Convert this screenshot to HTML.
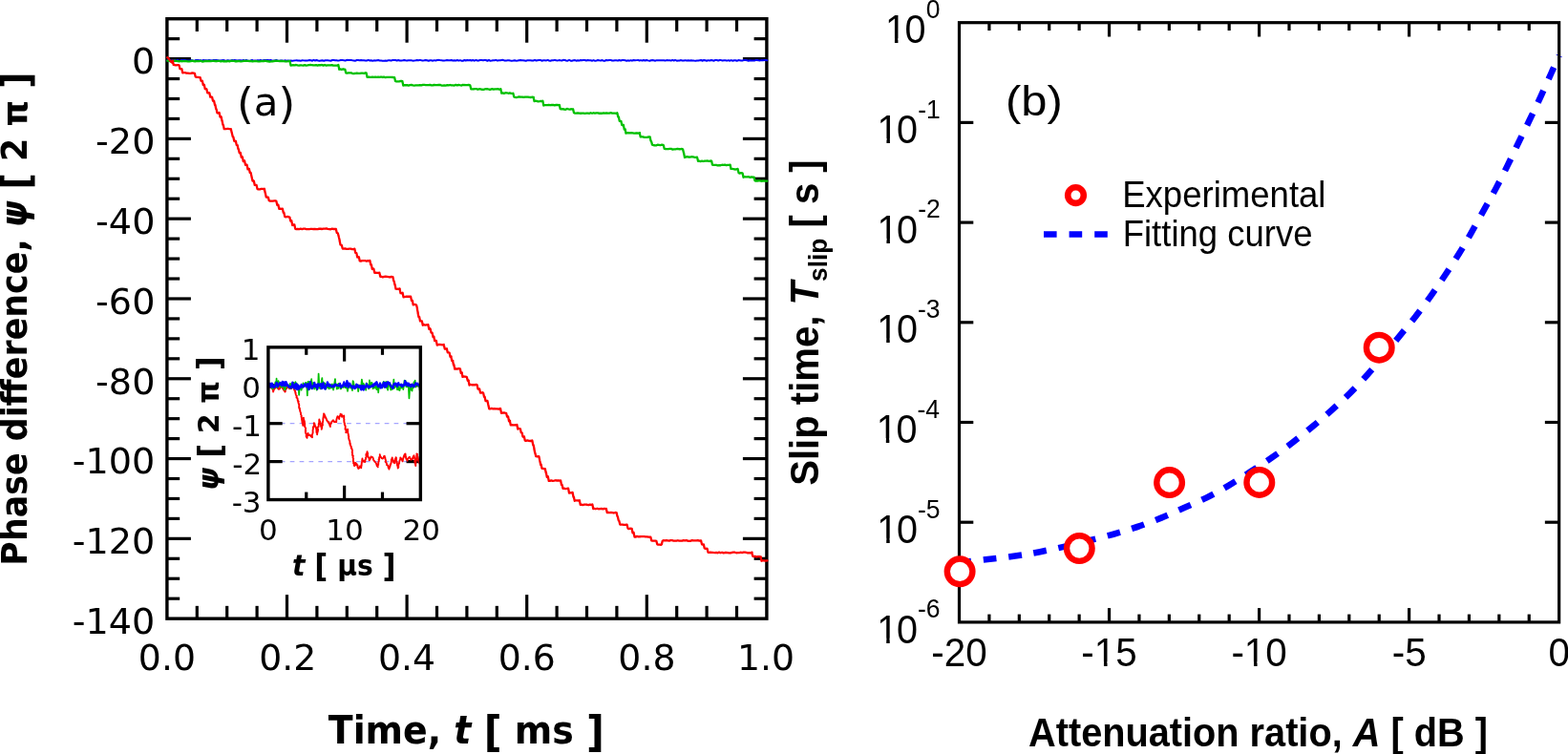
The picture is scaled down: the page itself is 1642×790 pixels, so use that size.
<!DOCTYPE html>
<html lang="en"><head><meta charset="utf-8"><title>Phase difference and slip time</title>
<style>html,body{margin:0;padding:0;background:#fff;}body{width:1642px;height:790px;overflow:hidden;}svg{display:block;}.l{font-family:"DejaVu Sans","Liberation Sans",sans-serif;}.r{font-family:"Liberation Sans","DejaVu Sans",sans-serif;}.b{font-weight:bold;}.i{font-style:italic;}text{fill:#000;}</style></head><body>
<svg width="1642" height="790" viewBox="0 0 1642 790">
<rect width="1642" height="790" fill="#fff"/>
<defs><clipPath id="one0"><path clip-rule="evenodd" d="M-200,-200H400V200H-200Z M1.5,-4.8H10.06V1.6H1.5Z M13.6,-4.8H22V1.6H13.6Z"/></clipPath><clipPath id="one1"><path clip-rule="evenodd" d="M-200,-200H400V200H-200Z M14.8,-4.8H23.37V1.6H14.8Z M26.91,-4.8H35.3V1.6H26.91Z"/></clipPath></defs>
<g id="left-axes">
<line x1="206.3" y1="19.7" x2="206.3" y2="33" stroke="#000" stroke-width="3.2"/>
<line x1="206.3" y1="648.15" x2="206.3" y2="634.85" stroke="#000" stroke-width="3.2"/>
<line x1="237.7" y1="19.7" x2="237.7" y2="33" stroke="#000" stroke-width="3.2"/>
<line x1="237.7" y1="648.15" x2="237.7" y2="634.85" stroke="#000" stroke-width="3.2"/>
<line x1="269.1" y1="19.7" x2="269.1" y2="33" stroke="#000" stroke-width="3.2"/>
<line x1="269.1" y1="648.15" x2="269.1" y2="634.85" stroke="#000" stroke-width="3.2"/>
<line x1="300.5" y1="19.7" x2="300.5" y2="44.7" stroke="#000" stroke-width="3.2"/>
<line x1="300.5" y1="648.15" x2="300.5" y2="623.15" stroke="#000" stroke-width="3.2"/>
<line x1="331.9" y1="19.7" x2="331.9" y2="33" stroke="#000" stroke-width="3.2"/>
<line x1="331.9" y1="648.15" x2="331.9" y2="634.85" stroke="#000" stroke-width="3.2"/>
<line x1="363.3" y1="19.7" x2="363.3" y2="33" stroke="#000" stroke-width="3.2"/>
<line x1="363.3" y1="648.15" x2="363.3" y2="634.85" stroke="#000" stroke-width="3.2"/>
<line x1="394.7" y1="19.7" x2="394.7" y2="33" stroke="#000" stroke-width="3.2"/>
<line x1="394.7" y1="648.15" x2="394.7" y2="634.85" stroke="#000" stroke-width="3.2"/>
<line x1="426.1" y1="19.7" x2="426.1" y2="44.7" stroke="#000" stroke-width="3.2"/>
<line x1="426.1" y1="648.15" x2="426.1" y2="623.15" stroke="#000" stroke-width="3.2"/>
<line x1="457.5" y1="19.7" x2="457.5" y2="33" stroke="#000" stroke-width="3.2"/>
<line x1="457.5" y1="648.15" x2="457.5" y2="634.85" stroke="#000" stroke-width="3.2"/>
<line x1="488.9" y1="19.7" x2="488.9" y2="33" stroke="#000" stroke-width="3.2"/>
<line x1="488.9" y1="648.15" x2="488.9" y2="634.85" stroke="#000" stroke-width="3.2"/>
<line x1="520.3" y1="19.7" x2="520.3" y2="33" stroke="#000" stroke-width="3.2"/>
<line x1="520.3" y1="648.15" x2="520.3" y2="634.85" stroke="#000" stroke-width="3.2"/>
<line x1="551.7" y1="19.7" x2="551.7" y2="44.7" stroke="#000" stroke-width="3.2"/>
<line x1="551.7" y1="648.15" x2="551.7" y2="623.15" stroke="#000" stroke-width="3.2"/>
<line x1="583.1" y1="19.7" x2="583.1" y2="33" stroke="#000" stroke-width="3.2"/>
<line x1="583.1" y1="648.15" x2="583.1" y2="634.85" stroke="#000" stroke-width="3.2"/>
<line x1="614.5" y1="19.7" x2="614.5" y2="33" stroke="#000" stroke-width="3.2"/>
<line x1="614.5" y1="648.15" x2="614.5" y2="634.85" stroke="#000" stroke-width="3.2"/>
<line x1="645.9" y1="19.7" x2="645.9" y2="33" stroke="#000" stroke-width="3.2"/>
<line x1="645.9" y1="648.15" x2="645.9" y2="634.85" stroke="#000" stroke-width="3.2"/>
<line x1="677.3" y1="19.7" x2="677.3" y2="44.7" stroke="#000" stroke-width="3.2"/>
<line x1="677.3" y1="648.15" x2="677.3" y2="623.15" stroke="#000" stroke-width="3.2"/>
<line x1="708.7" y1="19.7" x2="708.7" y2="33" stroke="#000" stroke-width="3.2"/>
<line x1="708.7" y1="648.15" x2="708.7" y2="634.85" stroke="#000" stroke-width="3.2"/>
<line x1="740.1" y1="19.7" x2="740.1" y2="33" stroke="#000" stroke-width="3.2"/>
<line x1="740.1" y1="648.15" x2="740.1" y2="634.85" stroke="#000" stroke-width="3.2"/>
<line x1="771.5" y1="19.7" x2="771.5" y2="33" stroke="#000" stroke-width="3.2"/>
<line x1="771.5" y1="648.15" x2="771.5" y2="634.85" stroke="#000" stroke-width="3.2"/>
<line x1="174.9" y1="40.65" x2="188.2" y2="40.65" stroke="#000" stroke-width="3.2"/>
<line x1="802.9" y1="40.65" x2="789.6" y2="40.65" stroke="#000" stroke-width="3.2"/>
<line x1="174.9" y1="61.6" x2="199.9" y2="61.6" stroke="#000" stroke-width="3.2"/>
<line x1="802.9" y1="61.6" x2="777.9" y2="61.6" stroke="#000" stroke-width="3.2"/>
<line x1="174.9" y1="82.54" x2="188.2" y2="82.54" stroke="#000" stroke-width="3.2"/>
<line x1="802.9" y1="82.54" x2="789.6" y2="82.54" stroke="#000" stroke-width="3.2"/>
<line x1="174.9" y1="103.49" x2="188.2" y2="103.49" stroke="#000" stroke-width="3.2"/>
<line x1="802.9" y1="103.49" x2="789.6" y2="103.49" stroke="#000" stroke-width="3.2"/>
<line x1="174.9" y1="124.44" x2="188.2" y2="124.44" stroke="#000" stroke-width="3.2"/>
<line x1="802.9" y1="124.44" x2="789.6" y2="124.44" stroke="#000" stroke-width="3.2"/>
<line x1="174.9" y1="145.39" x2="199.9" y2="145.39" stroke="#000" stroke-width="3.2"/>
<line x1="802.9" y1="145.39" x2="777.9" y2="145.39" stroke="#000" stroke-width="3.2"/>
<line x1="174.9" y1="166.34" x2="188.2" y2="166.34" stroke="#000" stroke-width="3.2"/>
<line x1="802.9" y1="166.34" x2="789.6" y2="166.34" stroke="#000" stroke-width="3.2"/>
<line x1="174.9" y1="187.29" x2="188.2" y2="187.29" stroke="#000" stroke-width="3.2"/>
<line x1="802.9" y1="187.29" x2="789.6" y2="187.29" stroke="#000" stroke-width="3.2"/>
<line x1="174.9" y1="208.23" x2="188.2" y2="208.23" stroke="#000" stroke-width="3.2"/>
<line x1="802.9" y1="208.23" x2="789.6" y2="208.23" stroke="#000" stroke-width="3.2"/>
<line x1="174.9" y1="229.18" x2="199.9" y2="229.18" stroke="#000" stroke-width="3.2"/>
<line x1="802.9" y1="229.18" x2="777.9" y2="229.18" stroke="#000" stroke-width="3.2"/>
<line x1="174.9" y1="250.13" x2="188.2" y2="250.13" stroke="#000" stroke-width="3.2"/>
<line x1="802.9" y1="250.13" x2="789.6" y2="250.13" stroke="#000" stroke-width="3.2"/>
<line x1="174.9" y1="271.08" x2="188.2" y2="271.08" stroke="#000" stroke-width="3.2"/>
<line x1="802.9" y1="271.08" x2="789.6" y2="271.08" stroke="#000" stroke-width="3.2"/>
<line x1="174.9" y1="292.03" x2="188.2" y2="292.03" stroke="#000" stroke-width="3.2"/>
<line x1="802.9" y1="292.03" x2="789.6" y2="292.03" stroke="#000" stroke-width="3.2"/>
<line x1="174.9" y1="312.98" x2="199.9" y2="312.98" stroke="#000" stroke-width="3.2"/>
<line x1="802.9" y1="312.98" x2="777.9" y2="312.98" stroke="#000" stroke-width="3.2"/>
<line x1="174.9" y1="333.92" x2="188.2" y2="333.92" stroke="#000" stroke-width="3.2"/>
<line x1="802.9" y1="333.92" x2="789.6" y2="333.92" stroke="#000" stroke-width="3.2"/>
<line x1="174.9" y1="354.87" x2="188.2" y2="354.87" stroke="#000" stroke-width="3.2"/>
<line x1="802.9" y1="354.87" x2="789.6" y2="354.87" stroke="#000" stroke-width="3.2"/>
<line x1="174.9" y1="375.82" x2="188.2" y2="375.82" stroke="#000" stroke-width="3.2"/>
<line x1="802.9" y1="375.82" x2="789.6" y2="375.82" stroke="#000" stroke-width="3.2"/>
<line x1="174.9" y1="396.77" x2="199.9" y2="396.77" stroke="#000" stroke-width="3.2"/>
<line x1="802.9" y1="396.77" x2="777.9" y2="396.77" stroke="#000" stroke-width="3.2"/>
<line x1="174.9" y1="417.72" x2="188.2" y2="417.72" stroke="#000" stroke-width="3.2"/>
<line x1="802.9" y1="417.72" x2="789.6" y2="417.72" stroke="#000" stroke-width="3.2"/>
<line x1="174.9" y1="438.67" x2="188.2" y2="438.67" stroke="#000" stroke-width="3.2"/>
<line x1="802.9" y1="438.67" x2="789.6" y2="438.67" stroke="#000" stroke-width="3.2"/>
<line x1="174.9" y1="459.62" x2="188.2" y2="459.62" stroke="#000" stroke-width="3.2"/>
<line x1="802.9" y1="459.62" x2="789.6" y2="459.62" stroke="#000" stroke-width="3.2"/>
<line x1="174.9" y1="480.56" x2="199.9" y2="480.56" stroke="#000" stroke-width="3.2"/>
<line x1="802.9" y1="480.56" x2="777.9" y2="480.56" stroke="#000" stroke-width="3.2"/>
<line x1="174.9" y1="501.51" x2="188.2" y2="501.51" stroke="#000" stroke-width="3.2"/>
<line x1="802.9" y1="501.51" x2="789.6" y2="501.51" stroke="#000" stroke-width="3.2"/>
<line x1="174.9" y1="522.46" x2="188.2" y2="522.46" stroke="#000" stroke-width="3.2"/>
<line x1="802.9" y1="522.46" x2="789.6" y2="522.46" stroke="#000" stroke-width="3.2"/>
<line x1="174.9" y1="543.41" x2="188.2" y2="543.41" stroke="#000" stroke-width="3.2"/>
<line x1="802.9" y1="543.41" x2="789.6" y2="543.41" stroke="#000" stroke-width="3.2"/>
<line x1="174.9" y1="564.36" x2="199.9" y2="564.36" stroke="#000" stroke-width="3.2"/>
<line x1="802.9" y1="564.36" x2="777.9" y2="564.36" stroke="#000" stroke-width="3.2"/>
<line x1="174.9" y1="585.3" x2="188.2" y2="585.3" stroke="#000" stroke-width="3.2"/>
<line x1="802.9" y1="585.3" x2="789.6" y2="585.3" stroke="#000" stroke-width="3.2"/>
<line x1="174.9" y1="606.25" x2="188.2" y2="606.25" stroke="#000" stroke-width="3.2"/>
<line x1="802.9" y1="606.25" x2="789.6" y2="606.25" stroke="#000" stroke-width="3.2"/>
<line x1="174.9" y1="627.2" x2="188.2" y2="627.2" stroke="#000" stroke-width="3.2"/>
<line x1="802.9" y1="627.2" x2="789.6" y2="627.2" stroke="#000" stroke-width="3.2"/>
<rect x="174.9" y="19.7" width="628" height="628.45" fill="none" stroke="#000" stroke-width="3.4"/>
</g>
<g id="left-curves">
<polyline points="175.28,63.35 176.96,63.27 178.31,63.38 179.69,63.31 181.36,63.56 182.67,63.12 184.17,63.58 185.89,62.89 187.49,63.72 188.88,63.4 190.2,62.86 191.84,62.9 193.22,63.07 194.66,63.27 196.31,63.61 197.84,63.43 199.34,63.45 200.83,63.1 202.52,63.75 203.97,63.49 205.28,63.06 206.77,62.91 208.45,63.21 209.98,63.2 211.52,63.61 212.68,63.04 214.51,63.27 216.04,63.21 217.21,63.42 218.97,63.09 220.22,63.15 222.04,63.53 223.24,63.07 224.74,62.9 226.49,63.01 227.91,63.25 229.27,63.51 230.76,63.43 232.25,63.23 233.79,63.09 235.57,63.57 236.83,63.65 238.3,63.2 240.03,63.43 241.26,63.74 242.8,63.08 244.51,63.15 245.84,62.92 247.27,63.37 248.82,63.39 250.37,63.26 252.09,63.29 253.45,63.63 254.81,62.99 256.58,63.59 257.84,63.02 259.52,63.7 260.83,63.71 262.58,63.39 263.91,62.94 265.28,63.72 266.85,63.48 268.36,63.59 269.99,63.11 271.34,63.5 272.8,63.06 274.48,63.62 276,63.1 277.61,63.03 278.79,63.09 280.45,62.9 281.85,63.18 283.5,62.97 284.93,63.65 286.65,63.44 288.05,63.38 289.35,62.88 290.81,63.67 292.56,63.72 293.82,63.42 295.48,63.51 296.93,63.75 298.34,63.34 300.08,63.66 301.59,63.48 303.11,63.67 304.45,63.47 306.15,63.63 307.48,63.56 309.14,63.37 310.56,63.19 312.05,63.4 313.37,63.43 315.2,63.64 316.61,63.2 318.11,63.37 319.51,63.6 320.88,63.53 322.37,63.39 324.03,63.06 325.61,63.3 327.08,63.68 328.46,62.86 329.97,63.46 331.44,63 333.2,63.44 334.53,63.65 335.99,63.45 337.45,63.24 339.17,63.67 340.7,63.2 342.1,63.13 343.44,63.3 345.19,63.61 346.65,63.71 347.99,63 349.56,63.1 350.98,63.22 352.63,63.29 354.02,63.61 355.76,63.26 356.94,62.88 358.73,62.89 360.17,63.36 361.53,63.56 362.93,62.97 364.59,62.87 366.22,63.06 367.48,62.89 369.16,63.25 370.66,63.44 372.22,63.71 373.68,63.03 375.11,63.01 376.44,63.27 378.2,63.01 379.54,63.16 381.2,63.32 382.67,63.53 384.09,63.56 385.78,62.93 387.29,63.5 388.51,63.26 390.19,63.67 391.6,63.36 393.28,63.57 394.81,63.27 396.21,63.03 397.73,63.59 399.21,63.5 400.56,63.66 402.33,63.73 403.68,63.56 405.1,63.67 406.8,63.16 408.02,63.25 409.69,63.54 411.17,62.88 412.79,62.91 414.29,63.01 415.62,63.56 417.06,62.98 418.69,63.5 420.31,63.47 421.85,63.29 423.36,62.93 424.6,63.32 426.12,63.51 427.75,63.32 429.33,63.35 430.64,63.19 432.33,63.66 433.61,63.62 435.38,63.32 436.74,63.03 438.23,63.3 439.76,62.87 441.39,63.31 442.69,63.57 444.25,63.29 445.8,62.91 447.25,63.22 448.9,63.68 450.15,63.28 451.61,63.24 453.36,63.66 454.74,63.14 456.14,63.41 457.9,62.97 459.35,62.87 460.64,63.05 462.32,63.14 463.71,63.41 465.12,63.51 466.63,63.31 468.18,63.03 469.78,63.24 471.23,63.22 472.78,62.99 474.17,63.42 475.83,63.33 477.41,63.4 478.91,63.06 480.37,63.58 481.93,63.13 483.22,63.68 484.69,63.75 486.43,62.97 487.7,63.5 489.21,62.94 490.92,63.23 492.41,62.96 493.77,63.47 495.14,63.03 496.88,63.67 498.48,62.95 499.82,63.53 501.32,63.47 502.71,62.91 504.18,62.88 505.84,63.31 507.35,62.98 508.72,63.03 510.46,63.74 511.99,62.94 513.18,63.71 514.83,63.54 516.28,63.27 517.85,63.24 519.38,62.86 520.92,63.61 522.24,63.26 523.94,63.21 525.25,63 526.86,62.86 528.5,63.57 529.94,63.62 531.41,63.21 532.91,63.3 534.55,63.57 535.79,63.67 537.46,63.55 538.99,63.22 540.52,63.64 541.95,63.54 543.48,63.22 544.97,62.91 546.33,63.27 547.72,63.17 549.45,63.41 550.8,63.7 552.46,63.15 553.96,63.36 555.42,63.2 557.09,63.43 558.48,63.54 560.09,62.87 561.46,63.51 562.83,63.21 564.26,63.03 565.88,62.94 567.33,63.67 568.94,63.31 570.6,63.36 572.11,63.42 573.55,62.92 574.97,63.53 576.27,63.69 577.82,63.27 579.32,63.3 580.99,62.9 582.61,63.23 583.96,63.39 585.4,63.11 587.01,63.35 588.38,63.49 589.89,62.86 591.37,62.89 592.84,63.53 594.43,63.66 596.06,62.9 597.65,63.7 598.82,63.66 600.45,63.28 602.15,63.07 603.49,63.69 605.06,63.27 606.66,63.59 608.03,62.95 609.54,63.26 610.89,62.9 612.51,62.96 613.98,63.45 615.48,63.09 617.03,63.23 618.61,63.33 620.19,63.71 621.59,63.06 622.87,63.65 624.62,63.41 625.97,63.09 627.59,63.36 629.06,63.42 630.62,63.02 631.94,63.73 633.68,63.64 634.87,62.9 636.45,63.23 638.08,62.94 639.55,62.92 640.89,63.46 642.56,63.42 644,63.28 645.44,63.16 647.14,63.6 648.4,62.96 650.17,63.41 651.66,63.04 653.03,63.08 654.67,63.18 656.12,63.74 657.51,63.34 659.16,63.68 660.55,63.18 661.93,63.64 663.43,62.92 665.1,63.29 666.65,63.12 668.18,62.92 669.48,63.45 670.94,63.12 672.67,63.47 674.02,62.98 675.55,63.5 677.05,62.96 678.68,63.36 680.25,63.7 681.76,63.24 683.22,63.12 684.55,63.21 686.27,63.66 687.53,63.18 689.07,63.18 690.58,63.2 692.01,63.36 693.73,63.34 695.25,63.36 696.51,63.53 698.27,63.1 699.46,63.31 701.15,63.36 702.81,63.44 704.25,62.91 705.66,63.56 707,62.92 708.73,63.66 710,63.42 711.53,63.52 713.21,63.07 714.56,63.54 716.17,63.54 717.63,63.15 719.33,63.46 720.67,63.33 722.25,63.49 723.82,63.22 725.29,63.45 726.81,63.58 728.3,63.65 729.85,63.43 731.19,63.49 732.8,63.23 734.16,62.98 735.78,63.74 737.15,63 738.59,63.23 740.12,63.72 741.54,63.13 743.07,63.43 744.81,63.01 746.05,63.26 747.74,63.67 749.05,62.95 750.6,63.05 752.12,63.5 753.76,63.05 755.11,63.1 756.61,63.53 758.16,63.34 759.84,63.28 761.15,63.65 762.88,63.16 764.25,63.71 765.73,63.05 767.08,63.7 768.85,63.2 770.26,63.31 771.67,63.74 773.31,63.06 774.58,63.28 776.21,63.57 777.84,63.4 779.14,62.99 780.7,63.08 782.4,63.31 783.82,63.74 785.19,63.33 786.65,63.54 788.1,63.59 789.9,63.59 791.13,63.09 792.86,62.94 794.28,63.27 795.95,63.38 797.42,63.12 798.9,63.23 800.45,62.93 801.92,63.04 803.3,63.3" fill="none" stroke="#0000ff" stroke-width="2.0" stroke-linejoin="round" stroke-linecap="round" />
<polyline points="175.3,63.72 176.3,63.72 177.3,63.83 178.8,64.37 180.3,63.95 181.8,63.95 183.3,63.76 184.8,63.94 186.3,64.07 187.8,64.27 189.3,63.99 190.8,64.25 192.3,63.78 193.8,64.02 195.3,64.07 196.8,64.47 198.3,64.36 199.8,64.22 201.3,63.71 202.8,64 204.3,64.27 205.8,63.89 207.3,64.15 208.8,64.07 210.3,63.71 211.8,64.49 213.3,64.34 214.8,63.87 216.3,64.19 217.8,63.93 219.3,64 220.8,64.13 222.3,63.94 223.8,63.97 225.3,64.01 226.8,64.23 228.3,63.91 229.8,63.86 231.3,64.29 232.8,63.96 234.3,64.46 235.8,64.15 237.3,64.28 238.8,63.97 240.3,64.36 241.8,63.77 243.3,63.81 244.8,63.78 246.3,64.24 247.8,64.27 249.3,63.84 250.8,64.02 252.3,64.37 253.8,64.17 255.3,63.77 256.8,63.88 258.3,63.83 259.8,63.8 261.3,64.03 262.8,63.76 264.3,64.44 265.8,64.04 267.3,64.11 268.8,64.22 270.3,64.31 271.8,64.36 273.3,64.01 274.8,63.97 276.3,64.03 277.8,63.71 279.3,64.02 280.8,64.26 282.3,64.49 283.8,64.33 285.3,64.23 286.8,64.19 288.3,63.71 289.8,63.96 291.3,63.97 292.8,64.22 294.3,63.79 295.8,64 297.3,64.11 298.8,64.33 300.3,64.36 301.8,64.19 303.3,63.83 303.6,64.31 304.5,68.61 305.55,68.33 307.05,68.17 308.55,68.29 310.05,68 311.55,68.46 313.05,68.68 314.55,68.3 316.05,68.46 317.55,68.56 319.05,68.04 320.55,68.64 322.05,68.39 323.55,68.05 325.05,67.95 326.55,68.08 328.05,68.35 329.55,68.44 331.05,68.15 332.55,68.63 334.05,68.18 335.55,68.26 337.05,67.99 338.55,68.67 340.05,68 341.55,68.61 343.05,68.32 344.55,68.34 346.05,68.34 347.55,68.1 349.05,68.61 350.55,68.68 352.05,68.54 353.55,68.37 354.35,67.99 355.25,72.73 356.3,72.3 357.8,72.79 359.3,72.27 360.8,72.53 361.35,72.74 362.25,76.41 363.3,76.7 364.8,76.32 366.3,76.29 367.8,76.41 369.3,77.05 370.8,77.01 372.3,76.79 373.8,76.51 375.3,76.8 376.8,76.85 378.3,76.57 379.8,76.73 381.3,76.9 382.8,76.27 383.6,76.42 384.5,80.82 385.55,80.56 387.05,80.76 388.55,80.9 390.05,80.59 391.55,80.86 393.05,80.66 394.55,80.9 396.05,80.71 397.55,80.96 399.05,80.48 400.55,80.98 402.05,80.56 403.55,81.22 405.05,80.93 406.55,80.82 408.05,80.78 409.55,80.95 411.05,81 412.55,81.05 413.1,81.05 414,85.02 415.05,85.43 416.55,85.31 418.05,85.32 419.55,84.96 421.05,84.98 421.35,85.09 422.25,89.55 423.3,89.24 424.8,89.24 426.3,89.17 427.8,89.55 429.3,89.08 430.8,88.87 432.3,89.4 433.8,89.54 435.3,89.41 436.8,89.3 438.3,89.42 439.8,89.07 441.3,89.3 442.8,88.88 444.3,88.92 445.8,89.18 447.3,89.22 448.8,89.14 450.3,88.86 451.8,89.38 453.3,89.24 454.8,89.01 456.3,89.07 457.8,89.14 459.3,89.01 460.8,88.88 462.3,89.55 463.8,89.6 465.3,89.35 466.8,89.52 468.3,89.16 469.8,89.47 471.3,89 472.8,89.42 474.3,89.28 475.8,89.54 477.3,88.9 478.8,89.46 480.3,88.92 481.8,89.25 483.3,89.58 484.8,88.82 486.3,89.02 487.8,89.06 489.3,89.08 490.8,88.87 492.3,89.54 492.35,89.47 493.25,93.33 494.3,93.29 495.8,93.48 497.3,93.05 498.8,93.03 500.3,93.73 501.8,93.26 503.3,93.41 504.8,93.76 506.3,93.79 507.8,93.39 509.3,93.17 510.8,93.25 512.3,93.75 513.8,93.73 515.3,93.17 516.8,93.68 518.3,93.29 519.8,93.39 521.3,93.15 522.8,93.71 524.3,93.81 524.35,93.17 525.25,97.7 526.3,97.35 527.8,97.9 529.3,97.24 530.8,97.28 532.3,97.78 533.8,97.45 535.3,97.92 536.8,97.89 537.35,97.77 538.25,101.49 539.3,101.94 540.8,102.13 542.3,101.74 543.8,101.45 545.3,101.56 546.8,101.63 548.3,101.95 549.8,101.54 551.3,101.53 552.8,101.57 554.3,101.91 555.8,102.02 557.3,101.68 558.8,101.91 558.6,102.09 559.5,106.04 560.55,105.75 562.05,105.81 563.55,106.31 565.05,106.1 566.55,105.79 568.05,106.08 568.35,105.64 569.25,110.54 570.3,110.11 571.8,110.18 573.3,110.18 574.8,109.79 576.3,110.24 577.8,109.98 579.3,109.96 580.8,110.4 582.3,109.83 583.8,109.99 585.3,110.36 585.85,109.95 586.75,114.17 587.8,114.38 589.3,114.09 590.8,114.66 592.3,114.73 593.8,113.97 595.3,114.31 596.8,114.54 598.3,114.25 599.8,114.69 600.1,114.34 601,118.27 602.05,118.58 603.55,118.65 605.05,118.42 606.55,118.66 608.05,118.76 609.55,118.54 611.05,118.54 612.55,118.81 614.05,118.68 615.55,118.55 617.05,118.89 618.55,118.27 620.05,118.75 621.55,118.26 623.05,118.62 624.55,118.32 626.05,118.48 627.55,118.75 629.05,118.76 630.55,118.76 632.05,118.32 633.55,118.52 635.05,118.31 636.55,118.6 638.05,118.53 639.55,118.16 641.05,118.61 642.55,118.7 644.05,118.59 645.55,118.83 646.35,118.28 647.25,122.44 647.85,122.33 648.75,126.9 649.8,126.85 650.35,126.86 651.25,130.9 652.3,131.33 652.85,130.75 653.75,135.6 654.8,135.33 654.6,135.31 655.5,139.7 656.55,139.26 658.05,139.18 659.55,139.31 661.05,139.1 662.55,139.32 664.05,139.56 665.55,139.49 667.05,139.28 668.55,139.54 670.05,139.14 669.85,139.72 670.75,143.39 671.8,143.46 673.3,143.38 674.8,143.81 676.3,143.92 677.8,143.88 679.3,143.3 680.8,143.58 680.6,143.54 681.5,147.61 682.1,148.22 683,151.66 684.05,152.02 685.55,152.24 687.05,152.42 688.55,151.74 690.05,151.99 691.55,152.22 693.05,151.66 694.55,151.82 694.85,152.34 695.75,155.93 696.8,156.13 698.3,156.05 699.8,156.15 701.3,155.88 702.8,155.84 704.3,156.61 705.8,156.42 707.3,156.4 708.8,156 710.3,156.02 711.8,156.26 713.3,156.01 714.8,156.18 715.1,156.56 716,160.29 716.1,160.27 717,164.97 718.05,164.68 719.55,164.22 721.05,164.51 722.55,164.71 724.05,164.23 725.55,164.46 727.05,164.74 728.55,164.88 730.05,164.66 730.1,164.9 731,168.75 732.05,168.69 733.55,169.05 735.05,168.68 736.55,169 738.05,168.55 739.55,168.65 741.05,168.52 742.55,168.81 744.05,168.51 745.1,168.54 746,172.73 747.05,172.94 748.55,172.81 750.05,172.92 751.55,173.36 753.05,173.11 754.55,173.25 756.05,172.73 757.55,172.87 759.05,172.62 760.55,173.12 762.05,172.85 763.55,172.78 764.6,172.58 765.5,176.89 766.55,176.96 768.05,177.06 769.55,177.49 771.05,177.32 772.55,176.96 772.6,177.04 773.5,181.06 774.55,181.69 776.05,181.22 777.55,181.55 777.6,181.51 778.5,185.85 779.55,185.14 781.05,185.38 782.55,185.43 784.05,185.19 785.55,185.83 787.05,185.38 788.55,185.74 789.6,185.54 790.5,189.35 791.55,189.63 793.05,189.5 794.55,189.34 796.05,189.43 797.55,189.79 799.05,189.34 800.55,189.56 802.05,189.65 803.3,189.71" fill="none" stroke="#00c000" stroke-width="2.3" stroke-linejoin="round" stroke-linecap="round" />
<polyline points="175.3,60.22 176.3,60.92 177.3,62.33 178.3,63.65 179.3,64.83 180.3,65.74 180.85,63.72 181.75,67.95 182.8,68.01 184.3,68.36 185.8,68.11 187.3,68.1 187.6,68.48 188.5,72.15 189.55,72.21 190.35,72.25 191.25,76.33 192.3,76.19 193.8,76.18 195.3,76.67 196.8,76.61 198.3,76.81 199.8,76.94 201.3,76.4 202.8,76.7 203.85,76.9 204.75,80.52 205.8,80.9 207.3,80.88 208.8,81.11 209.6,81.04 210.5,84.72 211.55,85.04 211.85,84.61 212.75,89.06 213.8,89.04 213.85,88.77 214.75,93.22 215.8,93.17 216.35,93.31 217.25,97.32 218.3,97.22 219.35,97.42 220.25,101.66 221.3,101.42 222.1,101.82 223,105.66 224.05,105.54 224.1,105.74 225,109.99 225.35,109.78 226.25,114.31 226.6,114.41 227.5,118.47 228.55,118.59 229.6,118.05 230.5,122.53 231.55,122.51 231.6,122.27 232.5,126.73 232.6,126.45 233.5,130.99 233.85,131.06 234.75,135.15 235.8,135.04 237.3,134.98 238.8,134.8 240.3,135.06 241.8,135.49 241.85,135.23 242.75,139.18 242.85,139.5 243.75,143.3 244.35,143.53 245.25,147.83 246.3,148.1 246.85,147.63 247.75,151.99 248.8,152.28 248.6,152.14 249.5,156.22 249.85,156.21 250.75,160.23 251.8,160.23 251.85,160.12 252.75,164.75 253.8,164.79 253.85,164.39 254.75,169 255.8,168.31 256.1,168.38 257,172.87 258.05,172.71 258.6,172.75 259.5,177.43 260.55,176.77 260.85,176.8 261.75,181.02 262.8,181.38 262.6,181.02 263.5,185.02 263.6,185.46 264.5,189.53 265.55,189.4 265.85,189.6 266.75,193.92 267.8,193.84 268.6,193.9 269.5,198.03 270.55,198.25 272.05,198.36 273.55,197.85 275.05,197.86 276.55,198.29 276.85,197.83 277.75,202.34 277.85,202.33 278.75,206.51 279.8,206.73 280.85,206.62 281.75,210.27 282.8,210.64 284.3,210.54 285.8,210.6 287.3,210.44 288.8,210.37 289.35,210.74 290.25,214.76 291.3,214.52 291.35,214.53 292.25,218.78 293.3,218.66 294.8,218.93 295.85,218.62 296.75,222.76 297.35,222.76 298.25,226.97 299.3,227.46 300.8,226.98 302.3,227.25 303.35,227.51 304.25,231.46 305.3,231.21 305.35,231.77 306.25,235.96 307.3,235.31 308.35,235.47 309.25,239.86 310.3,240.09 311.8,239.77 313.3,240.03 314.8,239.66 316.3,240.03 317.8,239.72 319.3,239.72 320.8,240.06 322.3,240.13 323.8,240.12 325.3,239.91 326.8,239.79 328.3,240.02 329.8,239.95 331.3,240.12 332.8,240.09 334.3,239.55 335.8,239.76 337.3,239.99 338.8,239.64 340.3,239.6 341.8,239.46 343.3,239.92 344.8,240.21 346.3,240.23 347.8,239.56 349.3,240 350.8,239.79 351.85,239.96 352.75,243.96 353.8,244.39 353.85,244.43 354.75,247.87 354.85,248.4 355.75,252.11 355.6,252.05 356.5,256.43 357.55,256.79 357.85,257 358.75,260.49 359.8,260.65 361.3,260.41 362.8,260.82 364.3,260.78 365.8,260.69 367.3,260.64 368.8,261.03 370.3,261.06 371.35,260.62 372.25,264.89 373.3,265.07 373.35,265.19 374.25,269.55 375.3,269.07 375.85,269.32 376.75,273.39 377.8,273.59 379.3,273.07 380.8,273.09 382.3,273.04 383.8,273.7 385.3,273.15 386.8,273.34 387.35,273.05 388.25,277.4 388.85,277.15 389.75,281.78 390.8,281.44 391.35,281.82 392.25,285.73 393.3,285.69 394.8,285.9 396.3,285.8 397.35,285.72 398.25,289.74 399.3,289.75 400.8,290.41 402.3,289.95 403.8,289.76 405.3,289.84 406.8,290.08 408.3,290.5 409.8,289.86 411.3,290.39 411.35,290.09 412.25,294.22 412.6,294.53 413.5,298.39 413.6,298.12 414.5,302.7 415.55,302.78 417.05,302.76 418.55,302.48 418.6,303.01 419.5,307.14 420.55,307.24 421.6,306.8 422.5,311.3 423.55,311.21 425.05,310.77 426.55,310.65 428.05,310.77 429.55,310.73 430.1,310.69 431,315.11 432.05,315.42 431.85,315.07 432.75,319.42 433.8,319.02 435.3,319.18 436.1,319.77 437,323.2 436.85,323.62 437.75,328.03 437.6,328.01 438.5,332.16 439.1,331.89 440,336.4 441.05,336.42 441.85,336.37 442.75,340.73 443.8,340.02 445.3,340.7 446.8,340.26 448.3,340.51 448.35,340.14 449.25,344.86 450.3,344.15 450.6,344.59 451.5,348.5 452.55,348.63 452.6,348.61 453.5,353.03 454.55,353.15 454.35,352.79 455.25,357.2 456.3,356.97 456.85,356.91 457.75,361.6 458.8,361.13 460.3,360.95 461.8,361.14 463.3,361.47 464.8,361.05 464.85,361.47 465.75,365.5 466.8,365.61 467.85,365.21 468.75,369.34 469.8,369.37 470.6,369.53 471.5,373.78 472.55,373.45 472.35,373.84 473.25,377.95 474.3,377.88 474.1,378.05 475,382.57 475.35,381.98 476.25,386.7 477.3,386.26 478.8,386.6 480.3,386.09 481.8,386.79 481.85,386.34 482.75,390.96 483.8,390.36 483.6,390.51 484.5,394.94 485.55,394.52 487.05,394.59 488.55,394.91 488.85,395.13 489.75,398.82 490.8,398.71 490.6,398.85 491.5,403.54 492.55,402.87 494.05,403.25 495.55,403.05 497.05,403.26 498.55,402.92 499.6,403.24 500.5,407.64 501.55,407.62 502.1,407.44 503,411.52 504.05,411.58 505.55,411.21 506.1,411.79 507,415.86 507.6,415.67 508.5,420.03 509.55,419.83 510.35,419.8 511.25,423.87 511.35,424.16 512.25,428.33 513.3,428.28 514.8,427.89 516.3,428.37 517.8,428.23 519.3,428.34 520.8,428.34 522.3,428.61 523.8,427.99 524.1,428.24 525,432.85 526.05,432.65 527.55,432.31 529.05,432.65 530.1,432.85 531,436.56 532.05,436.94 532.1,436.34 533,441.22 534.05,440.82 533.85,440.62 534.75,445.29 535.8,445.14 537.3,445.37 538.8,445.28 540.3,445.26 541.35,445.03 542.25,449.6 543.3,448.86 544.8,449.5 544.85,449.37 545.75,453.19 546.8,453.64 546.6,453.35 547.5,457.61 548.55,457.87 548.85,457.33 549.75,461.59 550.8,461.88 552.3,461.42 553.8,461.81 555.3,461.99 556.8,461.76 557.35,461.56 558.25,466.19 558.6,466.24 559.5,470.36 559.35,470.18 560.25,474.65 560.35,474.56 561.25,478.23 562.3,478.41 563.8,478.19 564.35,478.14 565.25,482.58 565.35,482.99 566.25,487.15 566.6,486.58 567.5,490.82 568.55,490.98 570.05,491.35 570.85,491.17 571.75,495.58 571.85,494.92 572.75,499.84 573.8,499.21 573.85,499.55 574.75,503.94 575.8,503.82 577.3,503.39 578.8,503.77 580.3,503.58 581.8,503.25 583.3,503.51 584.8,503.49 586.3,503.74 587.1,503.46 588,507.9 588.6,507.98 589.5,511.75 590.55,511.71 592.05,512.16 593.55,511.98 595.05,511.71 595.1,511.7 596,516.55 597.05,516.28 598.55,516.08 599.6,515.95 600.5,520.78 600.85,520.54 601.75,524.76 602.8,524.46 604.3,524.42 605.8,524.5 606.85,524.29 607.75,528.86 608.8,528.7 610.3,529.01 611.8,528.68 613.3,528.72 614.8,528.76 616.3,529.11 617.8,528.63 619.3,528.92 620.35,528.55 621.25,533.01 622.3,532.77 623.8,533.24 625.3,532.77 626.8,533.23 628.3,533.09 629.8,532.91 631.3,533.29 632.8,532.85 634.3,533.14 634.85,533.03 635.75,537.09 636.8,536.78 638.3,537.07 639.8,536.96 641.3,537.08 642.8,537.49 644.3,536.97 645.8,537.29 645.6,537.27 646.5,541.11 646.85,541.25 647.75,545.21 648.35,545.82 649.25,549.49 650.3,549.63 651.8,549.57 653.3,549.95 654.8,549.97 656.3,549.76 656.6,549.73 657.5,553.56 658.55,554.2 660.05,553.55 661.55,553.77 661.6,553.78 662.5,558.24 663.55,558.2 663.6,557.94 664.5,562.57 665.55,562.61 667.05,561.87 668.55,562.36 670.05,562.23 671.55,562.14 673.05,562.22 674.55,562.11 676.05,562.39 677.55,562.34 679.05,562.63 680.55,562.63 681.35,562.65 682.25,566.36 683.3,566.7 684.8,566.56 686.3,566.6 687.35,566.84 688.25,570.28 689.3,570.6 690.8,570.55 692.3,570.75 692.85,570.4 693.75,566.83 694.8,566.21 696.3,566.34 697.8,566.15 699.3,566.36 700.8,566.63 702.3,566.11 703.8,566.17 705.3,566.56 706.8,566.54 708.3,566.63 709.8,566.24 711.3,566.69 712.8,566.62 714.3,566.66 715.8,566.14 717.3,566.41 718.8,566.05 720.3,566.73 721.8,566.8 723.3,566.76 724.8,566.06 726.3,566.32 727.8,566.47 729.3,566.47 730.8,566.13 732.3,566.67 733.8,566.28 734.1,566.45 735,570.33 736.05,570.68 736.85,570.33 737.75,574.48 738.8,574.82 740.3,574.65 740.6,575.04 741.5,578.8 742.55,578.93 744.05,578.64 745.55,578.78 747.05,578.96 748.55,579.05 750.05,578.97 751.55,579.28 753.05,578.68 754.55,579.28 756.05,578.72 757.55,579.38 759.05,579.02 760.55,578.93 762.05,579.09 763.55,579.29 765.05,579.37 766.55,578.93 768.05,578.61 769.55,578.72 771.05,579.26 772.55,579.19 774.05,579.17 775.55,578.73 777.05,579.03 778.55,578.62 780.05,578.69 781.55,578.84 783.05,579.37 784.55,579.12 786.05,579.28 787.55,578.64 787.35,578.93 788.25,582.85 789.3,583 790.8,582.88 792.3,583.52 793.8,583.05 795.3,583.18 796.8,583.31 796.6,583.5 797.5,587.73 798.55,587.43 800.05,587.38 801.55,587.7 803.05,587.29 803.4,587.38" fill="none" stroke="#ff0000" stroke-width="2.3" stroke-linejoin="round" stroke-linecap="round" />
</g>
<g id="left-labels">
<text transform="translate(138.06,77.4) scale(1.0200,1.0000)" font-size="37.4" class="l">0</text>
<text transform="translate(100.1,161.19) scale(1.0200,1.0000)" font-size="37.4" class="l">-20</text>
<text transform="translate(100.1,244.98) scale(1.0200,1.0000)" font-size="37.4" class="l">-40</text>
<text transform="translate(100.1,328.78) scale(1.0200,1.0000)" font-size="37.4" class="l">-60</text>
<text transform="translate(100.1,412.57) scale(1.0200,1.0000)" font-size="37.4" class="l">-80</text>
<text transform="translate(75.68,496.36) scale(1.0200,1.0000)" font-size="37.4" class="l">-100</text>
<text transform="translate(75.68,580.16) scale(1.0200,1.0000)" font-size="37.4" class="l">-120</text>
<text transform="translate(75.68,663.95) scale(1.0200,1.0000)" font-size="37.4" class="l">-140</text>
<text transform="translate(144.87,701.6) scale(1.0100,1.0000)" font-size="37.4" class="l">0.0</text>
<text transform="translate(271.13,701.6) scale(1.0100,1.0000)" font-size="37.4" class="l">0.2</text>
<text transform="translate(395.88,701.6) scale(1.0100,1.0000)" font-size="37.4" class="l">0.4</text>
<text transform="translate(521.67,701.6) scale(1.0100,1.0000)" font-size="37.4" class="l">0.6</text>
<text transform="translate(647.36,701.6) scale(1.0100,1.0000)" font-size="37.4" class="l">0.8</text>
<text transform="translate(772.02,701.6) scale(1.0100,1.0000)" font-size="37.4" class="l">1.0</text>
<text transform="translate(248.02,121.1) scale(1.0217,1.0000)" font-size="41" class="l"><tspan font-size="1.085em" dy="0.068em">(</tspan><tspan dy="-0.068em">a</tspan><tspan font-size="1.085em" dy="0.068em">)</tspan></text>
<text transform="translate(343.81,779) scale(0.9332,1.0000)" font-size="40.6" class="l b">Time, <tspan class="i">t</tspan> <tspan font-size="1.09em" dy="0.062em">[</tspan><tspan dy="-0.068em"> ms </tspan><tspan font-size="1.09em" dy="0.062em">]</tspan></text>
<text transform="translate(28.4,592.64) rotate(-90) scale(0.9320,1.0000)" font-size="37.4" class="l b">Phase difference, <tspan class="i">ψ</tspan> <tspan font-size="1.09em" dy="0.062em">[</tspan><tspan dy="-0.068em"> 2 π </tspan><tspan font-size="1.09em" dy="0.062em">]</tspan></text>
</g>
<g id="inset">
<rect x="280.9" y="363.85" width="159.45" height="159.7" fill="#fff"/>
<line x1="280.9" y1="443.7" x2="440.35" y2="443.7" stroke="#a4a4ff" stroke-width="1.3" stroke-dasharray="4.7 5.2" stroke-dashoffset="-3"/>
<line x1="280.9" y1="483.62" x2="440.35" y2="483.62" stroke="#a4a4ff" stroke-width="1.3" stroke-dasharray="4.7 5.2" stroke-dashoffset="-3"/>
<line x1="320.76" y1="363.85" x2="320.76" y2="371.85" stroke="#000" stroke-width="3.2"/>
<line x1="320.76" y1="523.55" x2="320.76" y2="515.55" stroke="#000" stroke-width="3.2"/>
<line x1="360.62" y1="363.85" x2="360.62" y2="378.65" stroke="#000" stroke-width="3.2"/>
<line x1="360.62" y1="523.55" x2="360.62" y2="508.75" stroke="#000" stroke-width="3.2"/>
<line x1="400.49" y1="363.85" x2="400.49" y2="371.85" stroke="#000" stroke-width="3.2"/>
<line x1="400.49" y1="523.55" x2="400.49" y2="515.55" stroke="#000" stroke-width="3.2"/>
<line x1="280.9" y1="403.77" x2="295.7" y2="403.77" stroke="#000" stroke-width="3.2"/>
<line x1="440.35" y1="403.77" x2="425.55" y2="403.77" stroke="#000" stroke-width="3.2"/>
<line x1="280.9" y1="443.7" x2="295.7" y2="443.7" stroke="#000" stroke-width="3.2"/>
<line x1="440.35" y1="443.7" x2="425.55" y2="443.7" stroke="#000" stroke-width="3.2"/>
<line x1="280.9" y1="483.62" x2="295.7" y2="483.62" stroke="#000" stroke-width="3.2"/>
<line x1="440.35" y1="483.62" x2="425.55" y2="483.62" stroke="#000" stroke-width="3.2"/>
<polyline points="281.34,406.79 281.32,405.26 282.56,405.51 282.96,403.58 283.26,405.64 283.73,405.83 284.16,406.57 285.21,406.71 285.59,408.23 286.11,409.42 286.11,410.62 286.74,408.23 286.84,408.25 287.61,407.09 287.84,406.35 288.42,406.43 288.64,405.45 289.99,405.07 290.81,406.88 291.54,406.87 291.91,407.81 292.96,407.36 293.1,406.27 293.64,404.79 294.11,405.4 294.85,404.78 295.22,404.42 295.81,405.12 296.11,407.33 296.88,407.91 297.09,408.93 297.72,409.11 297.96,409.05 298.37,410.61 298.78,410.15 298.85,408.26 299.71,407.59 299.78,407.16 300.05,407.06 300.94,405.38 301.11,404.64 301.79,405.31 302.26,405.39 303.04,407.23 304,406.5 304.92,407.14 305.21,404.85 305.65,404.01 306.39,403.26 306.65,404.42 307.22,406.4 307.68,406.39 307.77,407.44 308.08,407.96 308.18,408.7 309.12,409.33 309.08,411.13 309.62,411.29 309.49,412.25 309.87,413.5 310.55,415.13 310.78,414.54 310.46,416.68 311.43,417.18 311.56,417.25 311.77,419.84 312.43,420.64 312.72,420.44 312.28,421.16 312.76,423 313.24,423.96 313.21,424.93 313.25,425.43 313.13,426.74 313.45,427.88 313.92,427.66 313.73,428.45 314.29,430.14 314.1,429.9 314.58,431.71 314.67,431.95 315.01,432.46 314.98,434.15 315.64,435.37 315.78,435.96 315.46,436.48 316.14,438.24 315.82,437.95 316.12,440.06 316.22,440.24 316.55,442.38 316.39,441.72 316.62,443.35 317.02,443.88 317.26,445.79 317.2,445.77 317.63,444.98 317.61,443.86 317.27,443.84 317.41,443.2 317.64,440.85 317.53,440.28 317.94,440.26 317.66,438.29 317.79,438.35 317.88,437.64 317.95,439.2 318.69,441.02 318.7,442.17 318.98,441.91 318.57,443.95 319.11,443.27 319.19,444.84 319.11,445.7 319.1,446.03 319.31,447.59 319.94,448.11 320.08,449.19 319.78,451.22 320.25,451.45 319.83,452.45 320.19,454.18 320.2,454.11 320.84,454.44 320.63,456.78 321.02,456.32 320.63,457.28 321.4,458.56 321.6,458.78 321.62,456.71 322.39,456.39 322.21,455.63 322.57,453.9 322.91,455.49 324.13,456.01 324.72,455.64 325.36,456.91 327.03,458.22 326.76,456.03 326.92,455.54 327.42,454.05 327.47,454.13 327.62,453.27 327.6,451.54 327.53,450.68 328,449.24 327.77,449.48 327.99,447.27 328.02,447.18 328.42,446.98 329,446.02 328.75,443.42 328.81,443.2 329.55,444.06 329.51,444.97 330.09,446.39 330.48,447.66 330.72,447.32 331.07,448.53 331.11,449.57 331.46,450.16 331.33,451.14 331.49,453.19 332.03,453.09 332.13,455.19 332.34,452.89 332.69,452.73 332.95,450.82 332.72,451.19 333.11,450.43 332.67,448.4 332.86,447.29 333.61,447.07 333.71,445.77 333.86,444.91 333.63,444.5 334.32,442.29 334.27,442.22 334.2,440.76 334.34,439.47 334.66,441.18 335.19,441.47 334.97,442.69 335.69,443.43 335.66,444.47 336.25,445.99 335.97,446.08 336.44,447.79 336.86,447.86 336.76,449.85 337.07,448.16 337.12,448.42 337.25,446.77 337.42,445.55 337.91,445.64 337.68,443.25 338.07,442.32 337.68,442.62 338.12,441.53 338.23,440.69 338.43,438.38 338.26,438.06 338.87,437.69 338.63,436.16 338.99,434.94 338.99,433.52 339.42,433.67 339.44,433.9 340.26,435.78 340.14,435.29 341,437.84 340.99,437.2 341.68,438.7 342.04,440.02 342.36,440.09 342.71,441.1 343.93,442.62 344.58,442.29 344.48,443.54 345.03,444.37 345.09,444.98 345.86,447.02 345.69,445.55 346.53,443.75 346.9,443.03 347.05,442.95 347.39,441.65 348.04,441.15 348.85,440.29 349.4,440.72 349.62,441.88 350.49,442.02 352.19,442.1 352.27,440.1 352.58,439.05 352.63,438.72 352.91,437.82 353.51,436.17 354.35,437 355.17,439 355.31,436.76 355.6,436.41 356.22,435.05 356.46,435.66 356.67,434.4 356.58,433.77 357.17,434.75 357.85,434.35 358.13,436.75 357.99,436.73 359.28,435.89 360.19,435.59 360.26,436.36 360.18,438.76 360.1,438.57 360.45,439.67 360.25,440.43 360.48,442.79 360.99,443.71 360.76,444.51 360.87,445.02 361.39,445.68 361.7,447 361.64,448.56 361.44,449.72 361.96,449.61 362.23,450.34 362.51,451.87 362.2,453.18 362.79,451.32 363.54,450.29 364.13,449.86 364.16,452.13 364.29,452.52 364.25,452.29 364.21,453.52 364.8,454.99 364.88,456.79 364.77,456.55 365.31,457.14 365.06,458.78 365.36,459.82 365.66,461.27 366.14,461.63 366.39,463.15 366.36,465.06 366.77,464.72 366.98,466.67 367.87,468.01 367.78,467.98 367.75,469.56 368.39,469.93 368.7,471 369.05,472.51 368.69,473.8 368.67,474.12 369.07,474.58 368.95,476.55 369.05,477.12 369.85,477.38 369.45,479.21 369.81,480.25 370.16,480.36 369.93,481.53 369.87,483.53 370.54,484.17 370.11,485.34 370.78,485.6 370.91,486.53 370.67,486.85 370.81,487.67 371.18,488.07 371.74,487.37 372.05,485.45 372.24,484.88 373.61,486.14 373.53,487.21 374.33,487.29 374.57,487.78 374.43,489.02 375.38,491 375.98,490.59 376.47,489.62 376.41,489.7 377.09,488.35 378.22,490.16 378.26,488.85 378.6,487.82 378.59,486.52 378.87,484.71 378.79,484.22 379.05,483.44 379.44,480.55 379.85,483.21 380.45,482.82 380.66,483.67 382.24,484.04 382.46,483.26 382.22,482.03 382.65,481.47 383.2,480.64 382.87,479.63 383.7,478.8 383.34,476.57 383.56,475.36 384.31,475.86 384.38,474.99 384.59,473.12 384.41,473.69 385.09,474.8 384.97,476.11 384.96,476.73 385.34,478.47 385.6,478.68 386.43,480.07 386.75,481.35 386.56,482.04 387.35,481.62 387.79,480.44 388.43,478.49 390.26,479.06 390.83,480.31 390.84,481.46 392.59,483.86 392.84,483.98 393.99,485.53 394.09,485.85 394.53,487.32 394.79,488.38 395.12,487.93 395.74,489.3 395.46,488.63 395.57,487.99 396.15,487.08 396.24,485.39 396.22,484.55 396.71,483.08 396.84,482.06 396.49,481.57 397.19,481.1 397.01,480.89 397.11,479.23 397.52,478.86 397.88,477.76 397.79,476.29 398.05,478.07 398.82,478.74 398.86,479.04 399.7,480.14 400.83,480.53 401.91,479.06 401.94,478.11 402.85,478.02 402.65,477.71 402.92,478.95 403.32,479.59 403.38,480.57 404.04,482.48 403.61,483.83 403.91,483.77 404.85,485.48 404.97,485.81 404.88,487.15 405.92,487.47 406.42,488.09 406.73,490.37 407.24,490.78 407.5,491.63 407.41,490.94 407.86,490.23 408.49,488.72 408.52,488.35 408.68,486.46 409.16,486.68 409.43,485.47 409.71,484.55 409.79,483.26 409.78,482.69 409.85,481.43 410.57,481.07 410.69,479.35 410.94,480.79 411.49,481.77 411.93,483.77 412.17,484.43 413.2,485.1 413.22,485.25 413.12,483.58 413.44,483.11 414.23,481.73 413.86,480.93 414.4,480.29 414.61,479.25 415.04,480.04 414.94,481.81 414.99,482.33 415.32,483.47 415.33,484.87 415.7,484.2 415.86,485.84 415.89,486.89 416.4,488.42 416.57,488.66 416.7,490.53 417.42,489.13 417.1,488.61 417.42,486.53 417.43,486.53 418.12,485.26 418.08,484.11 418.2,483.78 418.59,482.15 419.23,481.42 419.28,479.43 419.93,480.23 420.74,481.74 421.35,482.48 421.61,483.36 421.85,482.27 421.74,482.27 422.14,480.44 422.36,479.9 422.65,479.21 423.01,477.75 423.61,477.64 423.38,476.59 424.39,475.51 424.06,476.5 424.64,475.93 424.41,478.51 425.09,478.15 424.91,478.86 425.41,480.9 425.89,480.67 426.69,482.73 426.56,481.84 427.28,480.57 427.72,479.71 429.01,478.81 429.12,479.48 429.89,480.5 430.36,481.69 432.04,480.98 432.13,479.79 432.64,478.69 432.94,477.88 433.27,477.56 433.63,477.25 433.37,478.14 433.83,478.56 434.09,479.99 434.01,480.15 434.56,480.46 434.45,482.4 434.14,483.27 434.73,484.78 434.6,485.79 434.86,485.82 435.26,485.94 435.26,487.93 435.1,487.44 435.23,485.84 435.46,485.47 435.35,483.95 435.62,483.26 436.02,481.88 436.14,481.18 436.02,480.03 436.13,480.39 436.35,479.15 436.24,477.39 436.33,476.97 436.68,476.42 436.37,475.4 437.16,476.06 436.73,476.6 436.88,477.38 437.71,479.11 437.7,480.41 438.06,481.07 438.03,482.07 438.26,483 438.43,483.28 438.9,484.65 439.44,484.93 439.5,485.74 440.2,487.5" fill="none" stroke="#ff0000" stroke-width="1.9" stroke-linejoin="round" stroke-linecap="round" />
<polyline points="280.9,403.76 281.52,405.52 282.14,404.11 282.76,403.54 283.38,401.86 284,403.23 284.62,406.89 285.24,406.08 285.86,407.41 286.48,405.78 287.1,405.73 287.72,405.2 288.34,400.43 288.96,405.55 289.58,396.5 290.2,406.04 290.82,400.58 291.44,399.09 292.06,400.85 292.68,402.34 293.3,404.65 293.92,404.35 294.54,405.69 295.16,403.12 295.78,404.85 296.4,405.5 297.02,403.02 297.64,408.35 298.26,406.78 298.88,407.99 299.5,403.75 300.12,402.39 300.74,403.04 301.36,403.79 301.98,405.83 302.6,405.38 303.22,403.53 303.84,401.79 304.46,402.45 305.08,406.96 305.7,403.02 306.32,404.67 306.94,405.53 307.56,400.96 308.18,403.66 308.8,407.48 309.42,400.13 310.04,402.53 310.66,403.67 311.28,402.17 311.9,405.09 312.52,404.42 313.14,414 313.76,405.56 314.38,406.36 315,407.26 315.62,408.72 316.24,406.38 316.86,405.19 317.48,401.35 318.1,405.18 318.72,403.06 319.34,402.93 319.96,400.87 320.58,401.1 321.2,402.25 321.82,414.5 322.44,399.99 323.06,399.65 323.68,403.81 324.3,407.86 324.92,406.71 325.54,400.23 326.16,397.06 326.78,403.46 327.4,402.32 328.02,401.08 328.64,406.01 329.26,407.56 329.88,405.58 330.5,405.31 331.12,405.71 331.74,408.71 332.36,407.03 332.98,406.35 333.6,391.5 334.22,400.94 334.84,406.74 335.46,407.37 336.08,406.47 336.7,399.98 337.32,396 337.94,405.83 338.56,400.23 339.18,402.9 339.8,406.57 340.42,401.67 341.04,407.74 341.66,406.62 342.28,404.58 342.9,405.26 343.52,406.24 344.14,405.16 344.76,407.45 345.38,403.51 346,403.14 346.62,406.69 347.24,405.04 347.86,402.36 348.48,406.26 349.1,408.53 349.72,404.32 350.34,400.93 350.96,397 351.58,403.73 352.2,403.49 352.82,407.68 353.44,402.65 354.06,407.11 354.68,401.91 355.3,401.81 355.92,405.33 356.54,407.45 357.16,407.31 357.78,405.99 358.4,405.15 359.02,404.97 359.64,405.98 360.26,404.35 360.88,405.08 361.5,406 362.12,404.8 362.74,406.41 363.36,406.32 363.98,409.91 364.6,406.59 365.22,403.88 365.84,403.34 366.46,404.1 367.08,406.63 367.7,404.12 368.32,405.29 368.94,409.22 369.56,399.19 370.18,400.29 370.8,403.98 371.42,405.29 372.04,405.22 372.66,403.53 373.28,405.82 373.9,405.46 374.52,403.36 375.14,410.22 375.76,406.74 376.38,403.6 377,403.95 377.62,403.72 378.24,404.07 378.86,397.5 379.48,401.46 380.1,406.19 380.72,401.93 381.34,403.61 381.96,406.59 382.58,407.09 383.2,408.8 383.82,401.25 384.44,402.73 385.06,403.13 385.68,405.64 386.3,407.44 386.92,398.45 387.54,405.63 388.16,401.09 388.78,405.28 389.4,400.89 390.02,403.96 390.64,407.28 391.26,404.75 391.88,404.96 392.5,406.53 393.12,405.29 393.74,404.4 394.36,408.23 394.98,407.98 395.6,404.56 396.22,411.3 396.84,403.26 397.46,406.4 398.08,404.24 398.7,404.69 399.32,406.23 399.94,405.41 400.56,406.25 401.18,401.04 401.8,399.79 402.42,404.78 403.04,402.09 403.66,401.26 404.28,399.94 404.9,406.45 405.52,406.78 406.14,408.68 406.76,403.13 407.38,404.08 408,401.47 408.62,405.58 409.24,408.67 409.86,403.24 410.48,408.01 411.1,407.77 411.72,404.8 412.34,397.5 412.96,406.71 413.58,404.74 414.2,402.98 414.82,405.04 415.44,405.59 416.06,408.44 416.68,402.86 417.3,406.86 417.92,408.73 418.54,409.11 419.16,405.13 419.78,402.72 420.4,406.53 421.02,405.22 421.64,404.92 422.26,408.09 422.88,404.66 423.5,398.72 424.12,402.01 424.74,399.17 425.36,405.14 425.98,405.38 426.6,403.12 427.22,404.06 427.84,406.4 428.46,417.5 429.08,407.89 429.7,405.12 430.32,407.18 430.94,408.82 431.56,409.53 432.18,404 432.8,406.5 433.42,400.24 434.04,400.65 434.66,398.56 435.28,405.61 435.9,401.62 436.52,403.67 437.14,403.74 437.76,404.16 438.38,402.86 439,404.6 439.62,408.93 440.24,405.64" fill="none" stroke="#00c000" stroke-width="1.7" stroke-linejoin="round" stroke-linecap="round" />
<polyline points="280.9,404.9 281.52,405.93 282.14,404.15 282.76,401.89 283.38,402.53 284,405.46 284.62,401.57 285.24,402.38 285.86,405.31 286.48,405.67 287.1,404.43 287.72,405.48 288.34,404.65 288.96,402.16 289.58,400.88 290.2,402.13 290.82,405.1 291.44,403.31 292.06,402.29 292.68,402.26 293.3,400.96 293.92,403.04 294.54,401.75 295.16,404.06 295.78,400 296.4,403.56 297.02,402.8 297.64,400.4 298.26,404.33 298.88,403.61 299.5,400.11 300.12,401.54 300.74,403.88 301.36,403.19 301.98,405.12 302.6,405.55 303.22,405.52 303.84,404.94 304.46,406.5 305.08,405.75 305.7,405.2 306.32,400.76 306.94,404.71 307.56,406.4 308.18,404.1 308.8,403.23 309.42,407.1 310.04,401.79 310.66,404.24 311.28,408.18 311.9,403.47 312.52,405.04 313.14,407.47 313.76,404.66 314.38,405.12 315,405.81 315.62,402.91 316.24,403.58 316.86,404.39 317.48,405.5 318.1,404.32 318.72,403.75 319.34,402.21 319.96,402.94 320.58,405.25 321.2,404.49 321.82,402.67 322.44,402.24 323.06,408.09 323.68,406.96 324.3,405.82 324.92,400.05 325.54,404.07 326.16,404.83 326.78,407.07 327.4,405.5 328.02,404.26 328.64,404.95 329.26,400.93 329.88,404.99 330.5,404.8 331.12,403.01 331.74,406.01 332.36,407.58 332.98,402.51 333.6,402.49 334.22,404.12 334.84,404.34 335.46,403.41 336.08,402.2 336.7,407.15 337.32,406.55 337.94,402.61 338.56,401.37 339.18,406.24 339.8,406.24 340.42,407.66 341.04,406.29 341.66,403.09 342.28,404.22 342.9,400.38 343.52,401.82 344.14,403.36 344.76,404.73 345.38,402.95 346,403.53 346.62,404.66 347.24,404.81 347.86,405.29 348.48,404.68 349.1,403.62 349.72,405.25 350.34,404.4 350.96,402.69 351.58,402.61 352.2,403.65 352.82,403.73 353.44,404.2 354.06,404.05 354.68,404.31 355.3,403.85 355.92,401.82 356.54,404.17 357.16,405.83 357.78,405.2 358.4,403.98 359.02,404.75 359.64,402.55 360.26,400.41 360.88,403.2 361.5,402.22 362.12,404.81 362.74,402.36 363.36,399.12 363.98,401.01 364.6,405.94 365.22,403.83 365.84,401.63 366.46,402.11 367.08,404.41 367.7,404.95 368.32,404.54 368.94,406.66 369.56,405.87 370.18,404.43 370.8,405.12 371.42,407.09 372.04,406.42 372.66,406.35 373.28,402.75 373.9,403.43 374.52,405.1 375.14,403.77 375.76,405.76 376.38,405.45 377,405.91 377.62,404.12 378.24,408.36 378.86,407.2 379.48,404.43 380.1,404.26 380.72,408.48 381.34,404.54 381.96,405.62 382.58,406.07 383.2,404.53 383.82,402.15 384.44,403.86 385.06,404.57 385.68,406.06 386.3,405.85 386.92,404.5 387.54,405.58 388.16,405.31 388.78,404.68 389.4,404.26 390.02,403.65 390.64,405.08 391.26,402.48 391.88,402.55 392.5,403.65 393.12,401.42 393.74,402.61 394.36,400.24 394.98,401.9 395.6,404.44 396.22,405.07 396.84,404.18 397.46,403.65 398.08,401.5 398.7,406.48 399.32,405.5 399.94,406.23 400.56,403.06 401.18,403.45 401.8,400.77 402.42,404.52 403.04,405.72 403.66,401.2 404.28,403.21 404.9,404.87 405.52,401.22 406.14,400.2 406.76,401.24 407.38,402.24 408,401.18 408.62,403.35 409.24,404.26 409.86,405.14 410.48,405.48 411.1,406.92 411.72,406.71 412.34,402.45 412.96,402.75 413.58,401.89 414.2,401.64 414.82,403.27 415.44,403.83 416.06,404.79 416.68,401.5 417.3,401.27 417.92,403.28 418.54,403.48 419.16,403.34 419.78,403.73 420.4,402.64 421.02,404.85 421.64,404.82 422.26,404.05 422.88,402.87 423.5,403.42 424.12,399.23 424.74,401.14 425.36,403.35 425.98,401.28 426.6,403.66 427.22,404.17 427.84,401.7 428.46,403 429.08,403.22 429.7,404.59 430.32,405.19 430.94,404.23 431.56,402.61 432.18,403.41 432.8,403.74 433.42,405.18 434.04,404.8 434.66,402.97 435.28,401.44 435.9,402.73 436.52,402.42 437.14,401.72 437.76,403.23 438.38,402.97 439,403.92 439.62,404.87 440.24,403.52" fill="none" stroke="#0000ff" stroke-width="2.3" stroke-linejoin="round" stroke-linecap="round" />
<rect x="280.9" y="363.85" width="159.45" height="159.7" fill="none" stroke="#000" stroke-width="3.4"/>
<text transform="translate(252.8,376.85)" font-size="31" class="l">1</text>
<text transform="translate(253.33,416.77)" font-size="31" class="l">0</text>
<text transform="translate(242.94,456.7)" font-size="31" class="l">-1</text>
<text transform="translate(243.25,496.62)" font-size="31" class="l">-2</text>
<text transform="translate(242.63,536.55)" font-size="31" class="l">-3</text>
<text transform="translate(271.06,565.6)" font-size="31" class="l">0</text>
<text transform="translate(341.24,565.6)" font-size="31" class="l">10</text>
<text transform="translate(421.51,565.6)" font-size="31" class="l">20</text>
<text transform="translate(306.03,602.7) scale(0.9104,1.0000)" font-size="31" class="l b"><tspan class="i">t</tspan> <tspan font-size="1.09em" dy="0.062em">[</tspan><tspan dy="-0.068em"> µs </tspan><tspan font-size="1.09em" dy="0.062em">]</tspan></text>
<text transform="translate(229.4,514.11) rotate(-90) scale(0.9731,1.0000)" font-size="31" class="l b"><tspan class="i">ψ</tspan> <tspan font-size="1.09em" dy="0.062em">[</tspan><tspan dy="-0.068em"> 2 π </tspan><tspan font-size="1.09em" dy="0.062em">]</tspan></text>
</g>
<g id="right-axes">
<line x1="1035.91" y1="23.7" x2="1035.91" y2="32" stroke="#000" stroke-width="3.2"/>
<line x1="1035.91" y1="651.9" x2="1035.91" y2="643.6" stroke="#000" stroke-width="3.2"/>
<line x1="1067.32" y1="23.7" x2="1067.32" y2="32" stroke="#000" stroke-width="3.2"/>
<line x1="1067.32" y1="651.9" x2="1067.32" y2="643.6" stroke="#000" stroke-width="3.2"/>
<line x1="1098.72" y1="23.7" x2="1098.72" y2="32" stroke="#000" stroke-width="3.2"/>
<line x1="1098.72" y1="651.9" x2="1098.72" y2="643.6" stroke="#000" stroke-width="3.2"/>
<line x1="1130.13" y1="23.7" x2="1130.13" y2="32" stroke="#000" stroke-width="3.2"/>
<line x1="1130.13" y1="651.9" x2="1130.13" y2="643.6" stroke="#000" stroke-width="3.2"/>
<line x1="1161.54" y1="23.7" x2="1161.54" y2="38.5" stroke="#000" stroke-width="3.2"/>
<line x1="1161.54" y1="651.9" x2="1161.54" y2="637.1" stroke="#000" stroke-width="3.2"/>
<line x1="1192.94" y1="23.7" x2="1192.94" y2="32" stroke="#000" stroke-width="3.2"/>
<line x1="1192.94" y1="651.9" x2="1192.94" y2="643.6" stroke="#000" stroke-width="3.2"/>
<line x1="1224.35" y1="23.7" x2="1224.35" y2="32" stroke="#000" stroke-width="3.2"/>
<line x1="1224.35" y1="651.9" x2="1224.35" y2="643.6" stroke="#000" stroke-width="3.2"/>
<line x1="1255.76" y1="23.7" x2="1255.76" y2="32" stroke="#000" stroke-width="3.2"/>
<line x1="1255.76" y1="651.9" x2="1255.76" y2="643.6" stroke="#000" stroke-width="3.2"/>
<line x1="1287.17" y1="23.7" x2="1287.17" y2="32" stroke="#000" stroke-width="3.2"/>
<line x1="1287.17" y1="651.9" x2="1287.17" y2="643.6" stroke="#000" stroke-width="3.2"/>
<line x1="1318.58" y1="23.7" x2="1318.58" y2="38.5" stroke="#000" stroke-width="3.2"/>
<line x1="1318.58" y1="651.9" x2="1318.58" y2="637.1" stroke="#000" stroke-width="3.2"/>
<line x1="1349.98" y1="23.7" x2="1349.98" y2="32" stroke="#000" stroke-width="3.2"/>
<line x1="1349.98" y1="651.9" x2="1349.98" y2="643.6" stroke="#000" stroke-width="3.2"/>
<line x1="1381.39" y1="23.7" x2="1381.39" y2="32" stroke="#000" stroke-width="3.2"/>
<line x1="1381.39" y1="651.9" x2="1381.39" y2="643.6" stroke="#000" stroke-width="3.2"/>
<line x1="1412.8" y1="23.7" x2="1412.8" y2="32" stroke="#000" stroke-width="3.2"/>
<line x1="1412.8" y1="651.9" x2="1412.8" y2="643.6" stroke="#000" stroke-width="3.2"/>
<line x1="1444.21" y1="23.7" x2="1444.21" y2="32" stroke="#000" stroke-width="3.2"/>
<line x1="1444.21" y1="651.9" x2="1444.21" y2="643.6" stroke="#000" stroke-width="3.2"/>
<line x1="1475.61" y1="23.7" x2="1475.61" y2="38.5" stroke="#000" stroke-width="3.2"/>
<line x1="1475.61" y1="651.9" x2="1475.61" y2="637.1" stroke="#000" stroke-width="3.2"/>
<line x1="1507.02" y1="23.7" x2="1507.02" y2="32" stroke="#000" stroke-width="3.2"/>
<line x1="1507.02" y1="651.9" x2="1507.02" y2="643.6" stroke="#000" stroke-width="3.2"/>
<line x1="1538.43" y1="23.7" x2="1538.43" y2="32" stroke="#000" stroke-width="3.2"/>
<line x1="1538.43" y1="651.9" x2="1538.43" y2="643.6" stroke="#000" stroke-width="3.2"/>
<line x1="1569.84" y1="23.7" x2="1569.84" y2="32" stroke="#000" stroke-width="3.2"/>
<line x1="1569.84" y1="651.9" x2="1569.84" y2="643.6" stroke="#000" stroke-width="3.2"/>
<line x1="1601.24" y1="23.7" x2="1601.24" y2="32" stroke="#000" stroke-width="3.2"/>
<line x1="1601.24" y1="651.9" x2="1601.24" y2="643.6" stroke="#000" stroke-width="3.2"/>
<line x1="1003" y1="128.4" x2="1019.3" y2="128.4" stroke="#000" stroke-width="3.2"/>
<line x1="1632.65" y1="128.4" x2="1617.85" y2="128.4" stroke="#000" stroke-width="3.2"/>
<line x1="1003" y1="233.1" x2="1019.3" y2="233.1" stroke="#000" stroke-width="3.2"/>
<line x1="1632.65" y1="233.1" x2="1617.85" y2="233.1" stroke="#000" stroke-width="3.2"/>
<line x1="1003" y1="337.8" x2="1019.3" y2="337.8" stroke="#000" stroke-width="3.2"/>
<line x1="1632.65" y1="337.8" x2="1617.85" y2="337.8" stroke="#000" stroke-width="3.2"/>
<line x1="1003" y1="442.5" x2="1019.3" y2="442.5" stroke="#000" stroke-width="3.2"/>
<line x1="1632.65" y1="442.5" x2="1617.85" y2="442.5" stroke="#000" stroke-width="3.2"/>
<line x1="1003" y1="547.2" x2="1019.3" y2="547.2" stroke="#000" stroke-width="3.2"/>
<line x1="1632.65" y1="547.2" x2="1617.85" y2="547.2" stroke="#000" stroke-width="3.2"/>
</g>
<g id="right-data">
<path d="M1004.8,589.6C1008.95,589.1 1020,587.77 1029.7,586.6C1039.4,585.43 1053.12,584 1063,582.6C1072.88,581.2 1080.33,579.87 1089,578.2C1097.67,576.53 1106.5,574.55 1115,572.6C1123.5,570.65 1131.5,568.65 1140,566.5C1148.5,564.35 1157.5,562.12 1166,559.7C1174.5,557.28 1182.67,554.85 1191,552C1199.33,549.15 1207.83,545.93 1216,542.6C1224.17,539.27 1232.13,535.5 1240,532C1247.87,528.5 1255.4,525.5 1263.2,521.6C1271,517.7 1279.17,513.1 1286.8,508.6C1294.43,504.1 1301.57,499.4 1309,494.6C1316.43,489.8 1323.97,484.97 1331.4,479.8C1338.83,474.63 1346.42,469.08 1353.6,463.6C1360.78,458.12 1367.77,452.47 1374.5,446.9C1381.23,441.33 1387.5,436 1394,430.2C1400.5,424.4 1407.23,418.3 1413.5,412.1C1419.77,405.9 1425.85,399.43 1431.6,393C1437.35,386.57 1442.37,380.28 1448,373.5C1453.63,366.72 1459.65,359.3 1465.4,352.3C1471.15,345.3 1476.83,338.78 1482.5,331.5C1488.17,324.22 1494.18,315.93 1499.4,308.6C1504.62,301.27 1509,294.72 1513.8,287.5C1518.6,280.28 1523.78,272.45 1528.2,265.3C1532.62,258.15 1535.88,252.38 1540.3,244.6C1544.72,236.82 1550.32,226.5 1554.7,218.6C1559.08,210.7 1562.6,204.73 1566.6,197.2C1570.6,189.67 1574.78,181.33 1578.7,173.4C1582.62,165.47 1586.3,157.45 1590.1,149.6C1593.9,141.75 1597.7,134.18 1601.5,126.3C1605.3,118.42 1609.1,110.52 1612.9,102.3C1616.7,94.08 1620.98,84.35 1624.3,77C1627.62,69.65 1631.38,61.33 1632.8,58.2" fill="none" stroke="#0000ff" stroke-width="6.6" stroke-dasharray="13.7 12.8" stroke-dashoffset="1.3"/>
<rect x="1004.5" y="23.7" width="628.15" height="628.2" fill="none" stroke="#000" stroke-width="3.2"/>
<circle cx="1005.1" cy="598.8" r="13.3" fill="#fff" stroke="#ff0000" stroke-width="6.4"/>
<circle cx="1130.3" cy="574.6" r="13.3" fill="#fff" stroke="#ff0000" stroke-width="6.4"/>
<circle cx="1224.6" cy="505.6" r="13.3" fill="#fff" stroke="#ff0000" stroke-width="6.4"/>
<circle cx="1318.8" cy="505.4" r="13.3" fill="#fff" stroke="#ff0000" stroke-width="6.4"/>
<circle cx="1444.2" cy="364.2" r="13.3" fill="#fff" stroke="#ff0000" stroke-width="6.4"/>
<circle cx="1126.5" cy="204.6" r="8.3" fill="#fff" stroke="#ff0000" stroke-width="6.6"/>
<line x1="1093" y1="245.5" x2="1160" y2="245.5" stroke="#0000ff" stroke-width="6.6" stroke-dasharray="13.6 13.0"/>
</g>
<g id="right-labels">
<text transform="translate(926.97,45.3) scale(0.9900,1.0400)" font-size="40" class="r" clip-path="url(#one0)">1<tspan dx="-0.035em">0</tspan><tspan font-size="0.67em" dy="-0.944em" dx="0">0</tspan></text>
<text transform="translate(918.46,150) scale(0.9900,1.0400)" font-size="40" class="r" clip-path="url(#one0)">1<tspan dx="-0.035em">0</tspan><tspan font-size="0.67em" dy="-0.944em" dx="0">-1</tspan></text>
<text transform="translate(918.46,254.7) scale(0.9900,1.0400)" font-size="40" class="r" clip-path="url(#one0)">1<tspan dx="-0.035em">0</tspan><tspan font-size="0.67em" dy="-0.944em" dx="0">-2</tspan></text>
<text transform="translate(918.26,359.4) scale(0.9900,1.0400)" font-size="40" class="r" clip-path="url(#one0)">1<tspan dx="-0.035em">0</tspan><tspan font-size="0.67em" dy="-0.944em" dx="0">-3</tspan></text>
<text transform="translate(917.86,464.1) scale(0.9900,1.0400)" font-size="40" class="r" clip-path="url(#one0)">1<tspan dx="-0.035em">0</tspan><tspan font-size="0.67em" dy="-0.944em" dx="0">-4</tspan></text>
<text transform="translate(918.26,568.8) scale(0.9900,1.0400)" font-size="40" class="r" clip-path="url(#one0)">1<tspan dx="-0.035em">0</tspan><tspan font-size="0.67em" dy="-0.944em" dx="0">-5</tspan></text>
<text transform="translate(918.26,673.5) scale(0.9900,1.0400)" font-size="40" class="r" clip-path="url(#one0)">1<tspan dx="-0.035em">0</tspan><tspan font-size="0.67em" dy="-0.944em" dx="0">-6</tspan></text>
<text transform="translate(975.31,698.2) scale(1.0100,1.0400)" font-size="40" class="r">-20</text>
<text transform="translate(1132.35,698.2) scale(1.0100,1.0400)" font-size="40" class="r" clip-path="url(#one1)">-15</text>
<text transform="translate(1289.38,698.2) scale(1.0100,1.0400)" font-size="40" class="r" clip-path="url(#one1)">-10</text>
<text transform="translate(1457.73,698.2) scale(1.0100,1.0400)" font-size="40" class="r">-5</text>
<text transform="translate(1621.54,698.2) scale(1.0100,1.0400)" font-size="40" class="r">0</text>
<text transform="translate(1052.97,121.3) scale(1.1508,1.0400)" font-size="42.5" class="r">(b)</text>
<text transform="translate(1175.17,216.6) scale(0.9965,1.0400)" font-size="36.7" class="r">Experimental</text>
<text transform="translate(1175.68,257.5) scale(0.9952,1.0400)" font-size="36.7" class="r">Fitting curve</text>
<text transform="translate(1077.01,781.9) scale(0.9931,1.0400)" font-size="40" class="r b">Attenuation ratio, <tspan class="i">A</tspan> [ dB ]</text>
<text transform="translate(856.5,508.8) rotate(-90) scale(1.0024,1.0400)" font-size="40" class="r b">Slip time, <tspan class="i">T</tspan><tspan font-size="0.655em" dy="0.355em">slip</tspan><tspan dy="-0.2325em"> [ s ]</tspan></text>
</g>
</svg></body></html>
